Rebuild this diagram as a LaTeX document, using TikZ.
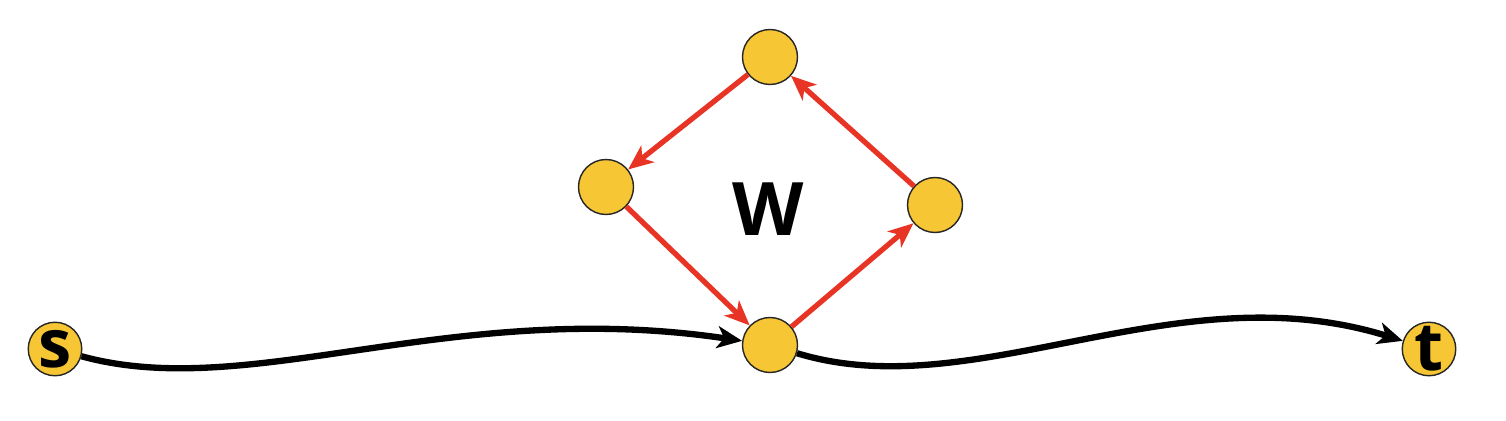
\documentclass[tikz,border=0pt]{standalone}
\usepackage{fontspec}
\setmainfont{Open Sans}
\usepackage{tikz}
\usetikzlibrary{arrows.meta}

\definecolor{vertexyellow}{RGB}{246,198,52}
\definecolor{cyclered}{RGB}{232,52,36}

\begin{document}
\begin{tikzpicture}[
    vertex/.style={circle, draw=black!85, line width=0.8pt, fill=vertexyellow, minimum size=1.1cm, inner sep=0pt},
    terminal/.style={vertex, minimum size=1.07cm, font=\fontsize{38}{38}\selectfont\bfseries},
    cycleedge/.style={->, draw=cyclered, line width=3pt, >={Stealth[length=5mm,width=4.2mm,inset=1.4mm]}},
    pathedge/.style={->, draw=black, line width=3.6pt, >={Stealth[length=5mm,width=4.4mm,inset=1.4mm]}}
  ]
  \useasboundingbox (0,0) rectangle (30.12,8.4);

  % Nodes
  \node[terminal] (s) at (1.1,1.42) {s};
  \node[terminal] (t) at (28.58,1.42) {t};
  \node[vertex] (bottom) at (15.4,1.5) {};
  \node[vertex] (right) at (18.7,4.3) {};
  \node[vertex] (top) at (15.4,7.26) {};
  \node[vertex] (left) at (12.12,4.66) {};
  \node[font=\fontsize{42}{42}\selectfont\bfseries] (w) at (15.36,4.22) {W};

  % Edges
  \draw[cycleedge] (bottom) -- (right);
  \draw[cycleedge] (right) -- (top);
  \draw[cycleedge] (top) -- (left);
  \draw[cycleedge] (left) -- (bottom);
  \draw[pathedge] (s) .. controls (5,0.35) and (9,2.45) .. (bottom);
  \draw[pathedge] (bottom) .. controls (19.5,0.25) and (23.5,3.0) .. (t);
\end{tikzpicture}
\end{document}
